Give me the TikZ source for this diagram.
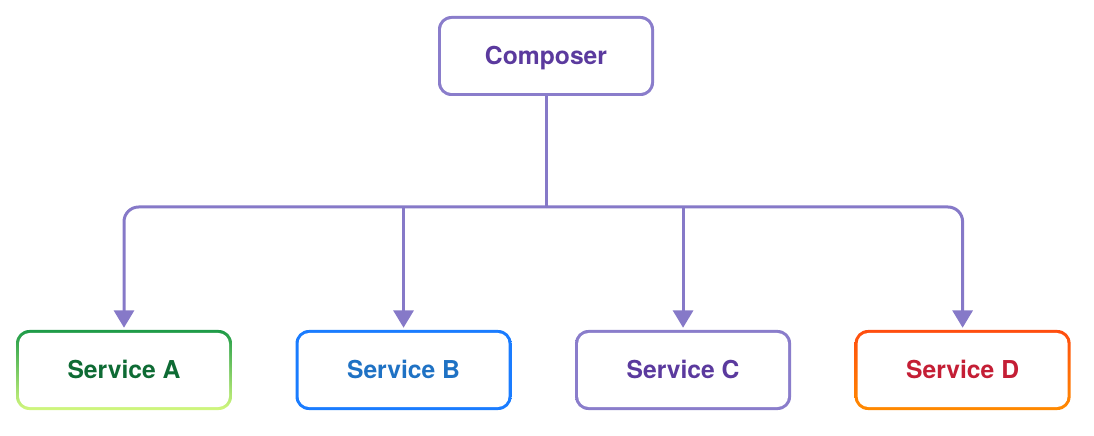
\documentclass[tikz,border=0pt]{standalone}
\usepackage{fontspec}
\setmainfont{TeX Gyre Heros}
\usetikzlibrary{arrows.meta,positioning,calc}

\definecolor{linkcol}{HTML}{8679C8}
\definecolor{purpletext}{HTML}{5B3A9E}
\definecolor{purplerim}{HTML}{8A7DCB}
\definecolor{greentext}{HTML}{0E6B34}
\definecolor{greentop}{HTML}{1E9B48}
\definecolor{greenbot}{HTML}{D2F77E}
\definecolor{bluetext}{HTML}{1F72C4}
\definecolor{bluerim}{HTML}{1A7CFF}
\definecolor{redtext}{HTML}{C41E35}
\definecolor{orangetop}{HTML}{FF4D0F}
\definecolor{orangebot}{HTML}{FF8A00}

\tikzset{
  box/.style={rectangle, rounded corners=10pt, minimum width=162pt, minimum height=60pt,
    font=\bfseries\fontsize{18.5}{22}\selectfont, text height=13.3pt, text depth=0pt,
    path picture={\fill[white, rounded corners=8pt]
      ([shift={(2.25pt,2.25pt)}]path picture bounding box.south west) rectangle
      ([shift={(-2.25pt,-2.25pt)}]path picture bounding box.north east);}},
  rim/.style 2 args={top color=#1, bottom color=#2},
  wire/.style={draw=linkcol, line width=2.25pt},
  link/.style={wire, rounded corners=11pt, shorten >=1.5pt, -{Triangle[width=15pt,length=13pt]}}
}

\begin{document}
\begin{tikzpicture}[x=0.75pt, y=0.75pt]
\useasboundingbox (0,0) rectangle (1094,435);

% Composer
\node[box, rim={purplerim}{purplerim}, text=purpletext] (comp) at (546,379) {Composer};

% Services
\node[box, rim={greentop}{greenbot}, text=greentext] (svcA) at (124,65) {Service A};
\node[box, rim={bluerim}{bluerim}, text=bluetext, right=47.25pt of svcA] (svcB) {Service B};
\node[box, rim={purplerim}{purplerim}, text=purpletext, right=47.25pt of svcB] (svcC) {Service C};
\node[box, rim={orangetop}{orangebot}, text=redtext, right=47.25pt of svcC] (svcD) {Service D};

% bus
\coordinate (bus) at (546,228);

% links
\draw[wire] (comp.south) -- (bus);
\draw[link] (bus) -| (svcA.north);
\draw[link] (bus) -| (svcD.north);
\draw[link] (svcB.north |- bus) -- (svcB.north);
\draw[link] (svcC.north |- bus) -- (svcC.north);
\end{tikzpicture}
\end{document}
